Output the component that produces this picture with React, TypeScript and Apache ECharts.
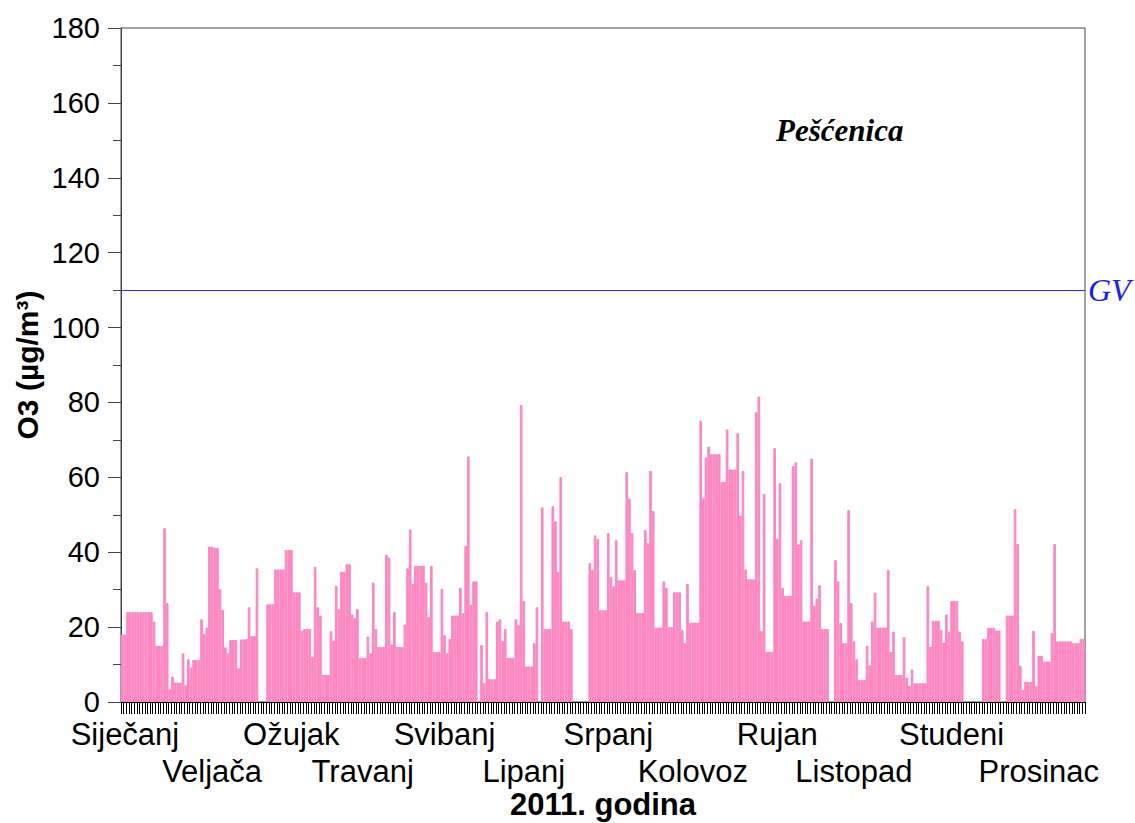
import React, { useEffect, useRef } from "react";
import * as echarts from "echarts";

// Month names (Croatian) and the category index at which each label is centred
const monthNames = [
  "Siječanj", "Veljača", "Ožujak", "Travanj", "Svibanj", "Lipanj",
  "Srpanj", "Kolovoz", "Rujan", "Listopad", "Studeni", "Prosinac",
];
const monthLengths = [31, 28, 31, 30, 31, 30, 31, 31, 30, 31, 30, 31];
const monthLabelDay = [1, 34, 64, 91, 122, 152, 184, 216, 248, 277, 314, 347];

// Daily mean O3 (µg/m³), station Pešćenica, 2011 (null = no data)
const jan = [18, 18, 24, 24, 24, 24, 24, 24, 24, 24, 24, 24, 21.5, 15, 15, 15, 46.4, 26.4, 3.4, 6.8, 5.2, 5.2, 5.2, 13, 4.5, 11.4, 9.2, 11.2, 11.2, 11.2, 22.1];
const feb = [18.2, 19.9, 41.5, 41.5, 41.2, 41.2, 30.1, 24.6, 14.6, 13, 16.6, 16.6, 16.6, 9, 16.7, 16.7, 16.8, 25.3, 17.6, 17.6, 35.7, null, null, null, 26.1, 26.1, 26.1, 35.4];
const mar = [35.4, 35.4, 35.4, 40.6, 40.6, 40.6, 29.3, 29.3, 29.3, 19, 19.5, 19.5, 19.5, 12.1, 36.1, 25.3, 23.1, 7.2, 7.2, 7.2, 18.9, 16.4, 31, 24.8, 34.8, 34.8, 36.8, 36.8, 23.4, 22.4, 24.8];
const apr = [11.8, 11.8, 11.8, 17.5, 13, 31.9, 19.5, 14.7, 14.7, 14.7, 39.3, 38.6, 15.4, 24, 14.7, 14.7, 14.7, 20.7, 35.7, 46.1, 31.5, 36.4, 36.4, 36.4, 36.4, 31.9, 22.7, 36.4, 13.4, 13.4];
const may = [13.4, 30.2, 17.8, 13, 16.9, 23.1, 23.1, 23.1, 30.5, 23.7, 41.7, 65.6, 26, 32.2, 32.2, null, 15.2, 5, 24, 6.1, 6.1, 6.1, 21.5, 22.1, 16.3, 19.5, 11.8, 11.8, 11.8, 22.1, 20.5];
const jun = [79.3, 27, 9.5, 9.5, 9.5, 15.7, 25.3, null, 52, 19.5, 19.5, 19.5, 52.3, 48.3, 34.7, 60.1, 21.5, 21.5, 21.5, 19.5, null, null, null, null, null, null, 37.1, 35.3, 44.5, 43.5];
const jul = [24.5, 24.5, 24.5, 45.1, 33.4, 30.9, 43.2, 32.5, 32.5, 32.5, 61.4, 54.3, 45.1, 35.2, 23.8, 23.8, 23.8, 45.9, 42.4, 61.7, 51, 19.9, 19.9, 19.9, 32.2, 30.5, 20, 20, 29.3, 29.3, 29.3];
const aug = [19.2, 15.7, 31.5, 21.2, 21.2, 21.2, 21.2, 75.1, 54.4, 65.3, 68.2, 66.2, 66.2, 66.2, 66.2, 58.8, 58.8, 72.8, 62.1, 62.1, 62.1, 71.8, 49.8, 61.7, 35.4, 32.8, 32.8, 32.8, 77.4, 81.6, 19];
const sep = [55.6, 13.4, 13.4, 13.4, 67.8, 43.6, 58.4, 30.5, 28.3, 28.3, 28.3, 63, 64, 42.1, 43.2, 21.5, 21.5, 21.5, 65, 25.7, 27.6, 31.2, 19.5, 19.5, 19.5, null, null, 37.9, 32.2, 21.1];
const oct = [15.7, 15.7, 51.3, 26.4, 16.2, 11.4, 5.9, 5.9, 5.9, 15, 9.8, 21.5, 29.2, 19.9, 19.9, 19.9, 19.9, 35.2, 13.4, 18.8, 7.2, 7.2, 7.2, 17.3, 6.5, 4.3, 8.7, 5, 5, 5, 5];
const nov = [5, 30.9, 14.8, 21.7, 21.7, 21.7, 19.2, 15.9, 23.4, 18.8, 27, 27, 27, 18.8, 16.2, null, null, null, null, null, null, null, 16.8, 16.8, 19.8, 19.8, 19.8, 19.1, 19.1, null];
const dec = [null, 23.1, 23.1, 23.1, 51.5, 42.2, 9.7, 3.2, 5.4, 5.4, 5.4, 19, 4.2, 12.4, 12.4, 10.8, 10.8, 10.8, 18.5, 42.2, 16.2, 16.2, 16.2, 16.2, 16.2, 16.2, 15.7, 15.7, 15.7, 16.9, 16.9];

const guideValue = 110; // GV
const stationName = "Pešćenica";

const values = [...jan, ...feb, ...mar, ...apr, ...may, ...jun, ...jul, ...aug, ...sep, ...oct, ...nov, ...dec];
const categories: string[] = [];
monthLengths.forEach((len, m) => {
  for (let d = 1; d <= len; d++) categories.push(`${d}.${m + 1}.2011`);
});

const SANS = "'Liberation Sans', Arial, sans-serif";
const SERIF = "'Liberation Serif', 'Times New Roman', serif";
const PINK = "#FF85C1";

// label row: 0 = months 1,3,5..., 1 = months 2,4,6...
const monthLabelAxis = (row: number, offset: number, withName: boolean) => ({
  type: "category",
  data: categories,
  boundaryGap: true,
  position: "bottom",
  offset,
  axisLine: { show: row === 0, lineStyle: { color: "#000", width: 1 } },
  axisTick: { show: row === 0, interval: 0, length: 12, lineStyle: { color: "#000", width: 1 } },
  axisLabel: {
    interval: (i: number) => {
      const m = monthLabelDay.indexOf(i);
      return m >= 0 && m % 2 === row;
    },
    formatter: (_v: string, i: number) => {
      const m = monthLabelDay.indexOf(i);
      return m >= 0 && m % 2 === row ? monthNames[m] : "";
    },
    fontFamily: SANS,
    fontSize: 31,
    lineHeight: 34,
    color: "#000",
    margin: 15,
  },
  splitLine: { show: false },
  ...(withName
    ? {
        name: "2011. godina",
        nameLocation: "middle",
        nameGap: 87,
        nameMoveOverlap: false,
        nameTextStyle: { fontFamily: SANS, fontWeight: "bold", fontSize: 31, color: "#000" },
      }
    : {}),
});

export default function App() {
  const ref = useRef<HTMLDivElement>(null);
  useEffect(() => {
    if (!ref.current) return;
    const chart = echarts.init(ref.current, null, { renderer: "svg" });
    chart.setOption({
      animation: false,
      backgroundColor: "#ffffff",
      title: {
        text: stationName,
        left: 771,
        top: 110,
        textStyle: {
          fontFamily: SERIF,
          fontStyle: "italic",
          fontWeight: "bold",
          fontSize: 31,
          color: "#000",
        },
      },
      grid: {
        left: 121,
        right: 50,
        top: 28,
        bottom: 121,
        show: true,
        borderColor: "#444",
        borderWidth: 1,
        outerBoundsMode: "none",
        containLabel: false,
      },
      xAxis: [monthLabelAxis(0, 0, true), monthLabelAxis(1, 37, false)],
      yAxis: {
        type: "value",
        min: 0,
        max: 180,
        interval: 20,
        axisLine: { show: true, lineStyle: { color: "#444", width: 1 } },
        axisTick: { show: true, length: 13, lineStyle: { color: "#444" } },
        minorTick: { show: true, splitNumber: 2, length: 8, lineStyle: { color: "#444" } },
        axisLabel: { fontFamily: SANS, fontSize: 29, lineHeight: 26, color: "#000", margin: 21 },
        splitLine: { show: false },
        name: "O3 (µg/m³)",
        nameLocation: "middle",
        nameGap: 79,
        nameMoveOverlap: false,
        nameTextStyle: { fontFamily: SANS, fontWeight: "bold", fontSize: 30, color: "#000" },
      },
      series: [
        {
          type: "bar",
          xAxisIndex: 0,
          data: values,
          barCategoryGap: "0%",
          barGap: "0%",
          itemStyle: { color: PINK, borderColor: PINK, borderWidth: 1 },
          markLine: {
            silent: true,
            symbol: "none",
            data: [
              {
                yAxis: guideValue,
                lineStyle: { color: "#2828ff", width: 1.2, type: "solid" },
              },
            ],
            lineStyle: { color: "#2828ff", width: 1.2, type: "solid" },
            label: {
              position: "end",
              formatter: "GV",
              color: "#1a1aff",
              fontFamily: SERIF,
              fontStyle: "italic",
              fontSize: 32,
              distance: 3,
            },
          },
        },
      ],
    });
    return () => chart.dispose();
  }, []);
  return (
    <div
      ref={ref}
      style={{ position: "absolute", left: 0, top: 0, width: 1135, height: 823, background: "#fff" }}
    />
  );
}
